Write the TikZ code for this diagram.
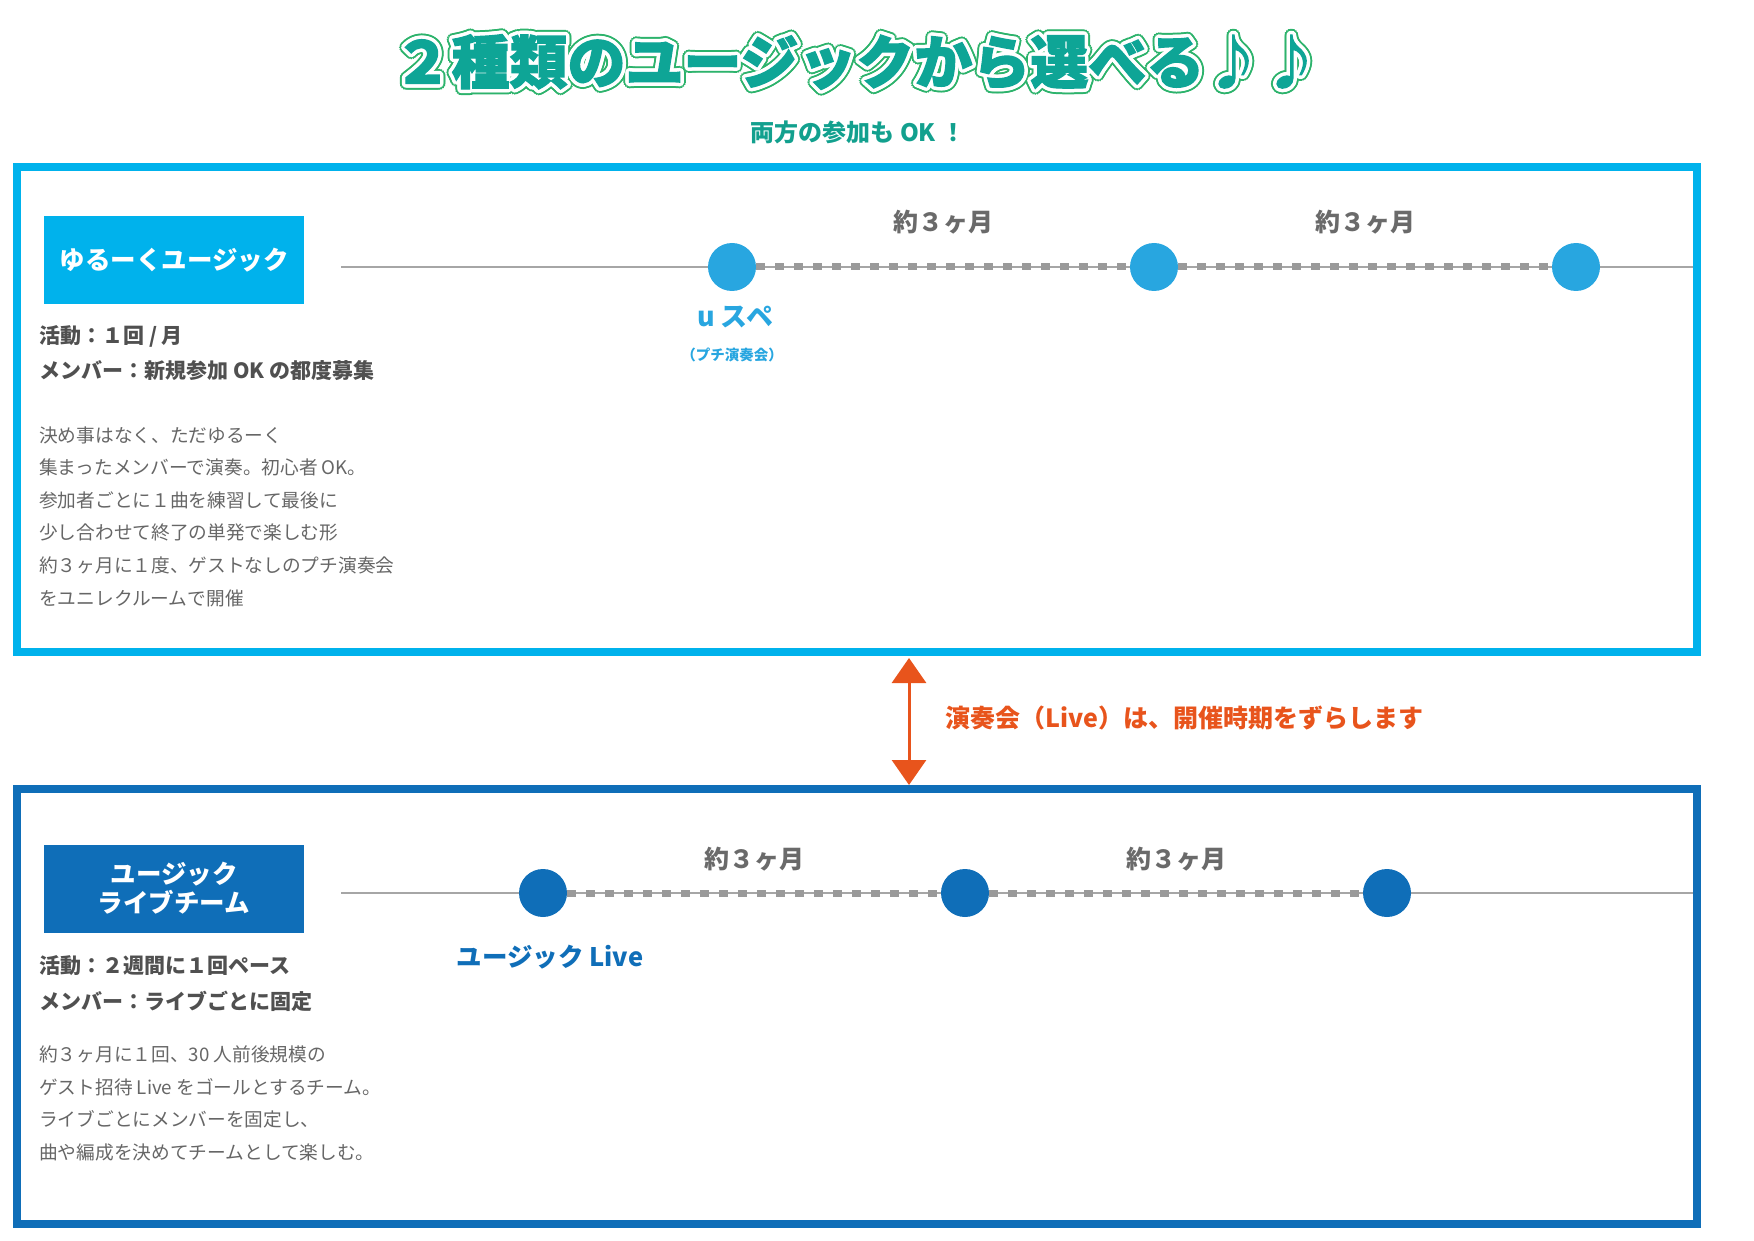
\documentclass[tikz,border=0pt]{standalone}
\usepackage{fontspec}
\setmainfont{Noto Sans CJK JP}
\newfontfamily\titlefont{Noto Sans CJK JP}[BoldFeatures={FakeBold=2}]
\usetikzlibrary{arrows.meta}
\definecolor{cyanbox}{HTML}{00B2EC}
\definecolor{dotcyan}{HTML}{28A6E0}
\definecolor{navy}{HTML}{0F6EB8}
\definecolor{linegray}{HTML}{A6A6A6}
\definecolor{dashgray}{HTML}{9A9A9A}
\definecolor{monthgray}{HTML}{6A6A6A}
\definecolor{headgray}{HTML}{505050}
\definecolor{bodygray}{HTML}{666666}
\definecolor{orangeA}{HTML}{E8541C}
\definecolor{tealA}{HTML}{0EA596}
\definecolor{tealB}{HTML}{12A08E}
\definecolor{greenA}{HTML}{2DB36C}
\begin{document}
\begin{tikzpicture}[x=1pt,y=-1pt,
  titlebase/.style={inner sep=0, font=\fontsize{58}{64}\selectfont\titlefont\bfseries},
  lab/.style={text=white, minimum width=260pt, minimum height=88pt, inner sep=0,
    font=\fontsize{25.5}{31}\selectfont\bfseries, align=center},
  dot/.style={circle, minimum size=48pt, inner sep=0},
  thinline/.style={draw=linegray, line width=2.5pt},
  dashline/.style={draw=dashgray, line width=7pt, dash pattern=on 9pt off 10pt},
  months/.style={text=monthgray, inner sep=0, font=\fontsize{25}{28}\selectfont\bfseries},
  headtxt/.style={anchor=west, inner sep=0, text=headgray, font=\fontsize{21}{24}\selectfont\bfseries},
  bodytxt/.style={anchor=west, inner sep=0, text=bodygray, font=\fontsize{18.7}{22}\selectfont},
  frame/.style={line width=8pt}
]
\useasboundingbox (0,0) rectangle (1754,1241);

% ---------- title (green and white outlines made of offset copies) ----------
\def\titletext{２種類のユージックから選べる♪♪}
\foreach \a in {0,22.5,...,337.5}{
  \node[titlebase, text=greenA] (tg\a) at ({857+5.5*cos(\a)},{62+5.5*sin(\a)}) {\titletext};
}
\foreach \a in {0,22.5,...,337.5}{
  \node[titlebase, text=white] (tw\a) at ({857+3.5*cos(\a)},{62+3.5*sin(\a)}) {\titletext};
}
\node[titlebase, text=tealA] (title) at (857,62) {\titletext};
\node[inner sep=0, text=tealB, font=\fontsize{24}{28}\selectfont\bfseries] (subtitle) at (858,132) {両方の参加も OK ！};

% ---------- top box ----------
\draw[frame, draw=cyanbox] (17,166.7) rectangle (1697,652);
\node[lab, fill=cyanbox] (lab1) at (174,260) {ゆるーくユージック};

\coordinate (t1a) at (341,267);
\coordinate (t1b) at (1693,267);
\draw[thinline] (t1a) -- (t1b);
\node[dot, fill=dotcyan] (c11) at (732,267) {};
\node[dot, fill=dotcyan] (c12) at (1154,267) {};
\node[dot, fill=dotcyan] (c13) at (1576,267) {};
\draw[dashline] (c11) -- (c12);
\draw[dashline] (c12) -- (c13);
\node[months] (m11) at (943,222) {約３ヶ月};
\node[months] (m12) at (1365,222) {約３ヶ月};
\node[inner sep=0, text=dotcyan, font=\fontsize{27}{30}\selectfont\bfseries] (uspe) at (735,317) {u スペ};
\node[inner sep=0, text=dotcyan, font=\fontsize{14.5}{17}\selectfont\bfseries] (petit) at (732,355) {（プチ演奏会）};

\node[headtxt] (h11) at (39,336) {活動：１回 / 月};
\node[headtxt] (h12) at (39,371) {メンバー：新規参加 OK の都度募集};
\node[bodytxt] (b11) at (39,435) {決め事はなく、ただゆるーく};
\node[bodytxt] (b12) at (39,467.6) {集まったメンバーで演奏。初心者 OK。};
\node[bodytxt] (b13) at (39,500.2) {参加者ごとに１曲を練習して最後に};
\node[bodytxt] (b14) at (39,532.8) {少し合わせて終了の単発で楽しむ形};
\node[bodytxt] (b15) at (39,565.4) {約３ヶ月に１度、ゲストなしのプチ演奏会};
\node[bodytxt] (b16) at (39,598) {をユニレクルームで開催};

% ---------- arrow ----------
\coordinate (arA) at (909,658);
\coordinate (arB) at (909,785);
\draw[draw=orangeA, line width=3pt, {Triangle[width=34pt,length=25pt]}-{Triangle[width=34pt,length=25pt]}] (arA) -- (arB);
\node[anchor=west, inner sep=0, text=orangeA, font=\fontsize{25}{28}\selectfont\bfseries] (shift) at (945,718) {演奏会（Live）は、開催時期をずらします};

% ---------- bottom box ----------
\draw[frame, draw=navy] (17,789) rectangle (1697,1223.5);
\node[lab, fill=navy] (lab2) at (174,888.5) {ユージック\\[-2pt]ライブチーム};

\coordinate (t2a) at (341,893);
\coordinate (t2b) at (1693,893);
\draw[thinline] (t2a) -- (t2b);
\node[dot, fill=navy] (c21) at (543,893) {};
\node[dot, fill=navy] (c22) at (965,893) {};
\node[dot, fill=navy] (c23) at (1387,893) {};
\draw[dashline] (c21) -- (c22);
\draw[dashline] (c22) -- (c23);
\node[months] (m21) at (754,859) {約３ヶ月};
\node[months] (m22) at (1176,859) {約３ヶ月};
\node[inner sep=0, text=navy, font=\fontsize{25.5}{30}\selectfont\bfseries] (ulive) at (550,957) {ユージック Live};

\node[headtxt] (h21) at (39,966) {活動：２週間に１回ペース};
\node[headtxt] (h22) at (39,1001) {メンバー：ライブごとに固定};
\node[bodytxt] (b21) at (39,1054) {約３ヶ月に１回、30 人前後規模の};
\node[bodytxt] (b22) at (39,1087) {ゲスト招待 Live をゴールとするチーム。};
\node[bodytxt] (b23) at (39,1119) {ライブごとにメンバーを固定し、};
\node[bodytxt] (b24) at (39,1152) {曲や編成を決めてチームとして楽しむ。};
\end{tikzpicture}
\end{document}
